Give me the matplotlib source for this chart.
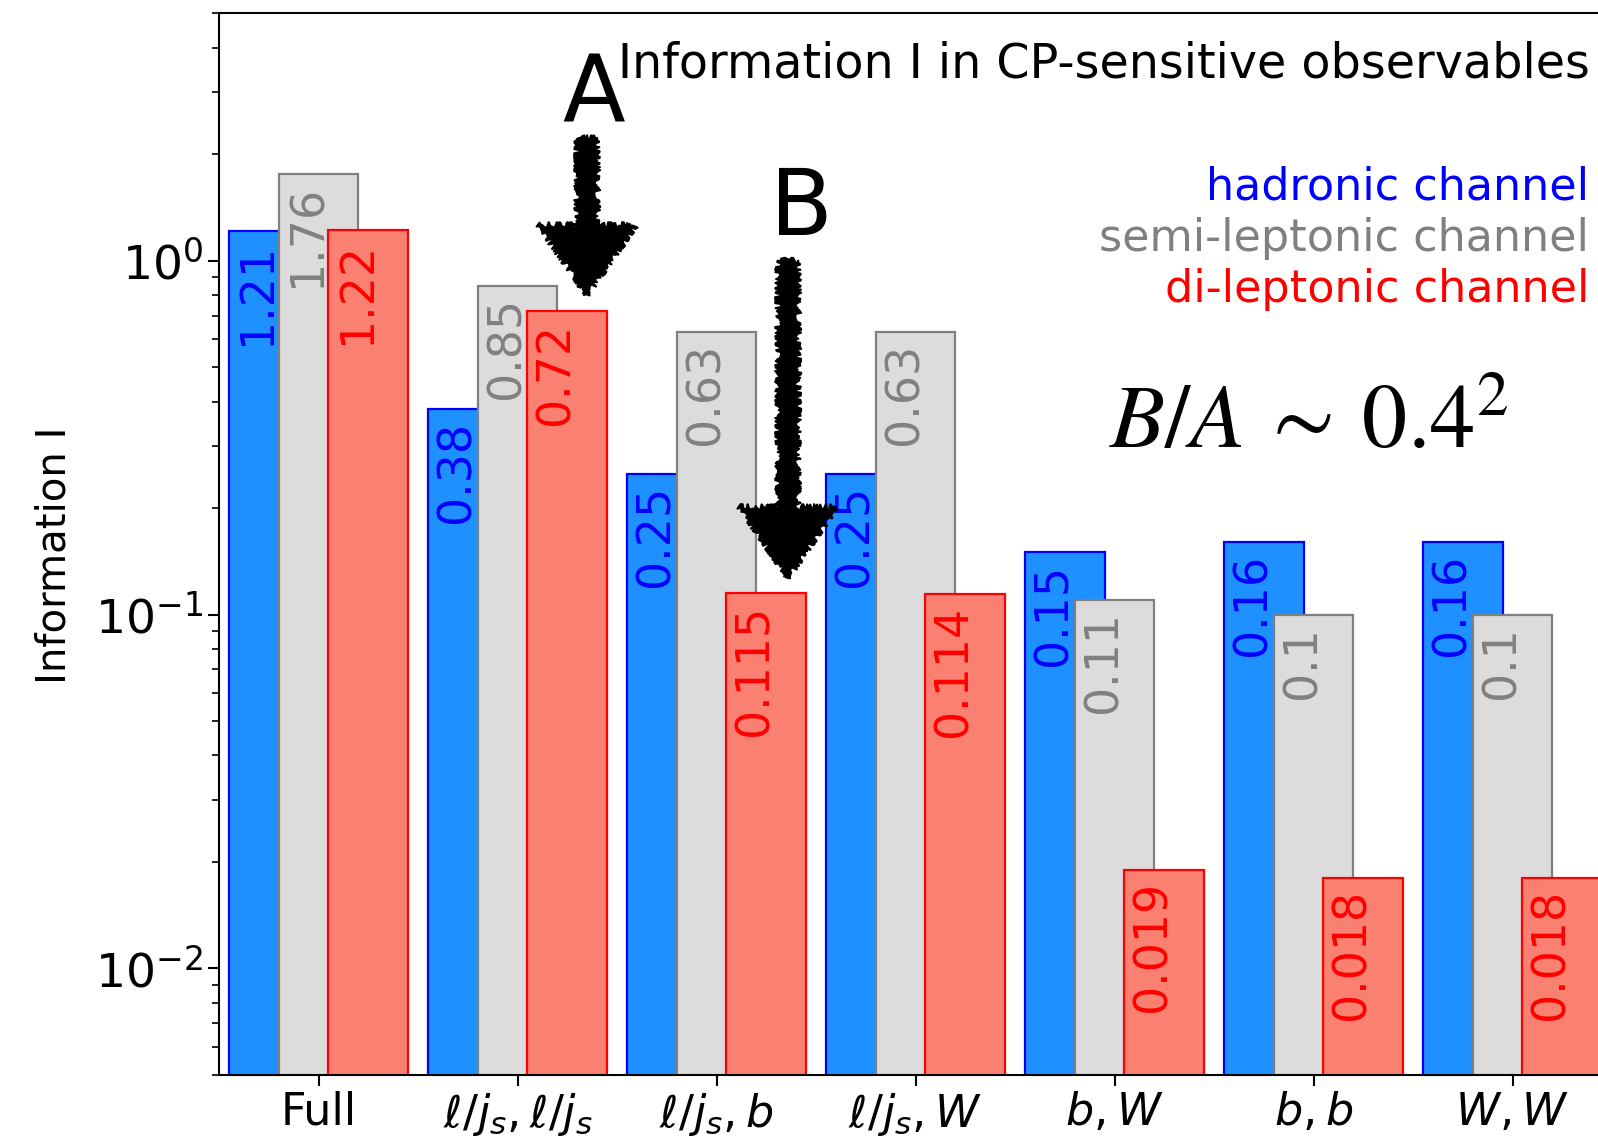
import matplotlib
matplotlib.use("Agg")
import matplotlib.pyplot as plt
import numpy as np

# observable pairs and information content per decay channel
categories = ["Full", r"$\ell/j_s,\ell/j_s$", r"$\ell/j_s,b$", r"$\ell/j_s,W$",
              r"$b,W$", r"$b,b$", r"$W,W$"]
hadronic     = [1.21, 0.38, 0.25, 0.25, 0.15, 0.16, 0.16]
semileptonic = [1.76, 0.85, 0.63, 0.63, 0.11, 0.1, 0.1]
dileptonic   = [1.22, 0.72, 0.115, 0.114, 0.019, 0.018, 0.018]

hadronic_lbl     = ["1.21", "0.38", "0.25", "0.25", "0.15", "0.16", "0.16"]
semileptonic_lbl = ["1.76", "0.85", "0.63", "0.63", "0.11", "0.1", "0.1"]
dileptonic_lbl   = ["1.22", "0.72", "0.115", "0.114", "0.019", "0.018", "0.018"]

W, H = 1598, 1139
fig = plt.figure(figsize=(W / 100, H / 100), dpi=100)
ax = fig.add_axes([219 / W, 64 / H, 1393 / W, 1061.6 / H])

x = np.arange(len(categories))
series = [
    (hadronic, hadronic_lbl, -0.25, "dodgerblue", "blue"),
    (semileptonic, semileptonic_lbl, 0.0, "gainsboro", "gray"),
    (dileptonic, dileptonic_lbl, 0.25, "salmon", "red"),
]
for vals, lbls, off, face, edge in series:
    ax.bar(x + off, vals, width=0.4, color=face, edgecolor=edge, linewidth=1.6)
    for xi, v, s in zip(x + off, vals, lbls):
        ax.text(xi - 0.055, v * 0.93, s, rotation=90, ha="center", va="top",
                color=edge, fontsize=33)

ax.set_yscale("log")
ax.set_ylim(0.005, 5)
ax.set_xlim(-0.5, 6.5)
ax.set_xticks(x)
ax.set_xticklabels(categories, fontsize=32)
ax.tick_params(axis="y", labelsize=34)
ax.tick_params(which="major", length=8, width=1.5)
ax.tick_params(which="minor", length=5, width=1.2)
ax.set_ylabel("Information I", fontsize=29)
ax.yaxis.set_label_coords(-0.104, 0.49)
for sp in ax.spines.values():
    sp.set_linewidth(1.5)

# headline and channel key
fig.text(1590 / W, 1 - 77 / H, "Information I in CP-sensitive observables",
         ha="right", va="baseline", fontsize=34.3)
for name, col, yb in [("hadronic channel", "blue", 200),
                      ("semi-leptonic channel", "gray", 251),
                      ("di-leptonic channel", "red", 302)]:
    fig.text(1589 / W, 1 - yb / H, name, color=col, ha="right",
             va="baseline", fontsize=32)

# A / B markers with hand-drawn arrows
fig.text(594 / W, 1 - 121 / H, "A", ha="center", va="baseline", fontsize=66)
fig.text(801 / W, 1 - 235 / H, "B", ha="center", va="baseline", fontsize=66)
for xi, v, top in [(1.35, dileptonic[1], 2.22), (2.36, dileptonic[2], 1.0)]:
    ann = ax.annotate("", xy=(xi, v * 1.11), xytext=(xi, top),
                      arrowprops=dict(arrowstyle="simple,head_length=0.7,head_width=0.97,tail_width=0.2",
                                      fc="black", ec="black", lw=1.5,
                                      mutation_scale=72, shrinkA=0, shrinkB=0))
    ann.arrow_patch.set_sketch_params(scale=3, length=5, randomness=24)

fig.text(1309 / W, 1 - 448 / H, r"$B/A\:\sim\:0.4^2$", ha="center",
         va="baseline", fontsize=65, math_fontfamily="stix")

fig.savefig("out.png", dpi=100)
